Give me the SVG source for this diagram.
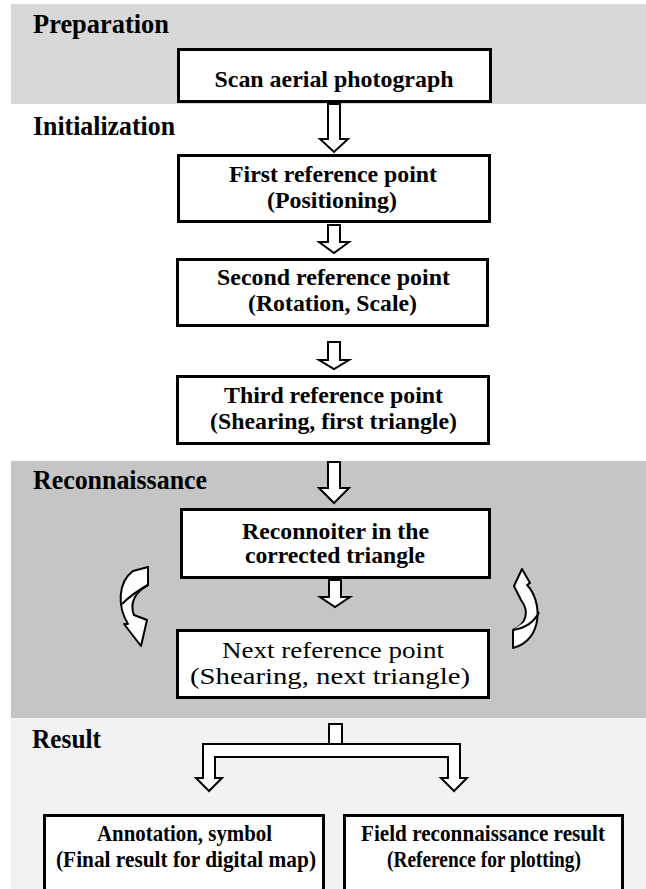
<svg xmlns="http://www.w3.org/2000/svg" width="646" height="889" viewBox="0 0 646 889">
<style>
.bg{fill:#ffffff}
.band1{fill:#d8d8d8}
.band2{fill:#c5c5c5}
.band3{fill:#f2f2f2}
.box{fill:#ffffff;stroke:#000;stroke-width:3}
.arrow{fill:#ffffff;stroke:#000;stroke-width:2;stroke-linejoin:miter}
.carrow{fill:#ffffff;stroke:#000;stroke-width:2;stroke-linejoin:round}
.hdr{font-family:"Liberation Serif","Times New Roman",serif;font-weight:bold;font-size:27px;fill:#000}
.t{font-family:"Liberation Serif","Times New Roman",serif;font-weight:bold;font-size:23px;text-anchor:middle;fill:#000}
.tn{font-family:"Liberation Serif","Times New Roman",serif;font-size:23px;text-anchor:middle;fill:#000}
</style>
<rect class="bg" x="0" y="0" width="646" height="889"/>
<g id="bands">
<rect class="band1" x="11" y="4" width="635" height="100"/>
<rect class="band2" x="11" y="461" width="635" height="257"/>
<rect class="band3" x="11" y="718" width="635" height="171"/>
</g>
<g id="headers">
<text class="hdr" x="33" y="33" textLength="136" lengthAdjust="spacingAndGlyphs">Preparation</text>
<text class="hdr" x="33" y="135" textLength="142" lengthAdjust="spacingAndGlyphs">Initialization</text>
<text class="hdr" x="33" y="489" textLength="174" lengthAdjust="spacingAndGlyphs">Reconnaissance</text>
<text class="hdr" x="32" y="748" textLength="69" lengthAdjust="spacingAndGlyphs">Result</text>
</g>
<g id="connectors">
<polygon class="arrow" points="328,104 340,104 340,139 348,139 334,152 320,139 328,139"/>
<polygon class="arrow" points="328,225 340,225 340,242 349,242 334,253 319,242 328,242"/>
<polygon class="arrow" points="328,342 340,342 340,360 349,360 334,369 319,360 328,360"/>
<polygon class="arrow" points="328,462 340,462 340,488 349,488 334,503 319,488 328,488"/>
<polygon class="arrow" points="329,580 341,580 341,597 350,597 335,607 320,597 329,597"/>
<rect class="arrow" x="329" y="724" width="13" height="20"/>
<polygon class="arrow" points="203,744 460,744 460,778 467,778 454,791 441,778 448,778 448,757 215,757 215,778 222,778 209,791 196,778 203,778"/>
<path class="carrow" d="M133,571 L148,567 L148,585 C136,591 129,603 134,615 L147,620 L141,646 L124,624 L128,624 C117,606 118,582 133,571 Z"/>
<path class="carrow" d="M148,585 C137,591 128,598 122,604"/>
<path class="carrow" d="M513,630 C526,624 530,612 521,600 L514,586 L522,569 L530,583 L527,585 C542,600 544,640 513,648 Z"/>
<path class="carrow" d="M539,612 C534,623 525,628 513,630"/>
</g>
<g id="scan">
<rect class="box" x="178.5" y="49.5" width="312" height="52"/>
<text class="t" x="334" y="87" textLength="239" lengthAdjust="spacingAndGlyphs">Scan aerial photograph</text>
</g>
<g id="first">
<rect class="box" x="178.5" y="155.5" width="311" height="66"/>
<text class="t" x="333" y="182" textLength="208" lengthAdjust="spacingAndGlyphs">First reference point</text>
<text class="t" x="332" y="208" textLength="130" lengthAdjust="spacingAndGlyphs">(Positioning)</text>
</g>
<g id="second">
<rect class="box" x="177.5" y="259.5" width="310" height="66"/>
<text class="t" x="333.5" y="285" textLength="233" lengthAdjust="spacingAndGlyphs">Second reference point</text>
<text class="t" x="332.5" y="311" textLength="169" lengthAdjust="spacingAndGlyphs">(Rotation, Scale)</text>
</g>
<g id="third">
<rect class="box" x="177.5" y="376.5" width="311" height="67"/>
<text class="t" x="333.5" y="403" textLength="219" lengthAdjust="spacingAndGlyphs">Third reference point</text>
<text class="t" x="333.5" y="429" textLength="247" lengthAdjust="spacingAndGlyphs">(Shearing, first triangle)</text>
</g>
<g id="reconnoiter">
<rect class="box" x="181.5" y="509.5" width="308" height="68"/>
<text class="t" x="335.5" y="539" textLength="187" lengthAdjust="spacingAndGlyphs">Reconnoiter in the</text>
<text class="t" x="335" y="563" textLength="180" lengthAdjust="spacingAndGlyphs">corrected triangle</text>
</g>
<g id="next">
<rect class="box" x="177.5" y="630.5" width="311" height="67"/>
<text class="tn" x="333" y="658" textLength="222" lengthAdjust="spacingAndGlyphs">Next reference point</text>
<text class="tn" x="330" y="684" textLength="280" lengthAdjust="spacingAndGlyphs">(Shearing, next triangle)</text>
</g>
<g id="annotation">
<rect class="box" x="44.5" y="815.5" width="279" height="90"/>
<text class="t" x="184.5" y="841" textLength="175" lengthAdjust="spacingAndGlyphs">Annotation, symbol</text>
<text class="t" x="186" y="867" textLength="260" lengthAdjust="spacingAndGlyphs">(Final result for digital map)</text>
</g>
<g id="field">
<rect class="box" x="344.5" y="815.5" width="278" height="90"/>
<text class="t" x="483" y="841" textLength="244" lengthAdjust="spacingAndGlyphs">Field reconnaissance result</text>
<text class="t" x="484" y="867" textLength="194" lengthAdjust="spacingAndGlyphs">(Reference for plotting)</text>
</g>
</svg>
